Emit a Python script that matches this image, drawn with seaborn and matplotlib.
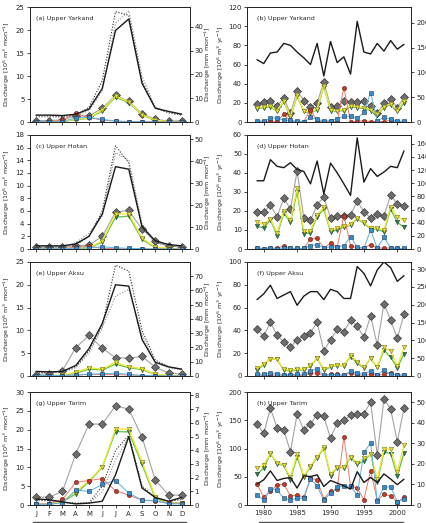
import numpy as np
import pandas as pd
import matplotlib
matplotlib.use("Agg")
import matplotlib.pyplot as plt
import seaborn as sns

months = np.arange(1, 13)
month_labels = ['J', 'F', 'M', 'A', 'M', 'J', 'J', 'A', 'S', 'O', 'N', 'D']
years = np.arange(1979, 2002)

# ---- monthly climatology (10^6 m3 / month) ----
yar_m_obs = [1.5, 1.5, 1.4, 1.7, 2.8, 7.3, 19.9, 22.4, 8.4, 3.0, 2.3, 1.7]
yar_m_hi = [1.3, 1.3, 1.2, 1.5, 3.2, 9.0, 24.0, 23.2, 9.0, 3.0, 2.0, 1.5]
yar_m_lo = [1.1, 1.1, 1.0, 1.3, 2.5, 6.8, 21.5, 24.2, 10.0, 3.2, 2.0, 1.5]
yar_m_gray = [0.3, 0.3, 0.5, 1.3, 1.3, 3.0, 5.8, 4.5, 1.8, 0.6, 0.2, 0.3]
yar_m_yel = [0.05, 0.05, 0.2, 0.6, 0.9, 2.6, 5.6, 4.4, 1.6, 0.4, 0.1, 0.1]
yar_m_grn = [0.0, 0.0, 0.15, 0.5, 0.8, 2.4, 5.4, 4.2, 1.5, 0.35, 0.1, 0.05]
yar_m_red = [0.1, 0.1, 0.4, 1.9, 1.0, 0.4, 0.2, 0.1, 0.05, 0.05, 0.05, 0.05]
yar_m_blu = [0.05, 0.05, 0.1, 0.9, 1.0, 0.6, 0.2, 0.05, 0.05, 0.0, 0.0, 0.0]

hot_m_obs = [0.5, 0.5, 0.5, 0.8, 2.0, 5.5, 13.0, 12.6, 3.5, 1.3, 0.7, 0.5]
hot_m_hi = [0.3, 0.3, 0.3, 0.6, 2.0, 6.0, 16.3, 13.6, 3.5, 1.0, 0.5, 0.3]
hot_m_lo = [0.3, 0.3, 0.3, 1.0, 2.5, 5.2, 15.2, 14.0, 4.0, 1.0, 0.5, 0.3]
hot_m_gray = [0.3, 0.3, 0.3, 0.5, 0.6, 2.0, 5.8, 6.1, 3.1, 1.2, 0.5, 0.3]
hot_m_yel = [0.0, 0.0, 0.05, 0.1, 0.2, 1.3, 5.5, 5.6, 1.7, 0.3, 0.1, 0.05]
hot_m_grn = [0.0, 0.0, 0.0, 0.05, 0.15, 1.1, 5.0, 5.2, 1.5, 0.2, 0.05, 0.0]
hot_m_red = [0.0, 0.0, 0.05, 0.3, 0.4, 0.1, 0.05, 0.0, 0.0, 0.0, 0.0, 0.0]
hot_m_blu = [0.0, 0.0, 0.05, 0.1, 0.2, 0.35, 0.2, 0.1, 0.05, 0.0, 0.0, 0.0]

aks_m_obs = [1.0, 0.9, 1.0, 2.3, 6.0, 11.5, 20.0, 19.7, 8.0, 3.0, 2.0, 1.5]
aks_m_hi = [0.8, 0.8, 1.0, 2.0, 5.5, 11.0, 24.3, 23.0, 10.0, 3.5, 2.0, 1.4]
aks_m_lo = [0.6, 0.6, 0.8, 1.8, 5.0, 10.5, 17.5, 19.0, 9.0, 3.0, 1.8, 1.3]
aks_m_gray = [0.3, 0.5, 1.2, 6.2, 8.9, 6.1, 4.0, 3.9, 4.3, 1.9, 0.7, 0.4]
aks_m_yel = [0.0, 0.05, 0.2, 0.8, 1.8, 1.5, 3.0, 2.0, 1.6, 0.4, 0.1, 0.1]
aks_m_grn = [0.0, 0.05, 0.15, 0.6, 1.5, 1.3, 2.6, 1.8, 1.4, 0.3, 0.05, 0.05]
aks_m_red = [0.05, 0.05, 0.1, 0.2, 0.3, 0.3, 0.3, 0.2, 0.1, 0.05, 0.0, 0.0]
aks_m_blu = [0.05, 0.1, 0.1, 0.2, 0.4, 0.5, 0.6, 0.4, 0.1, 0.05, 0.0, 0.0]

tar_m_obs = [1.6, 1.4, 0.8, 0.3, 0.5, 1.0, 8.0, 18.2, 4.5, 2.0, 1.0, 2.0]
tar_m_hi = [1.3, 1.2, 0.8, 0.5, 0.6, 5.0, 14.5, 18.5, 5.0, 2.0, 1.0, 1.5]
tar_m_lo = [1.2, 1.1, 0.7, 0.4, 0.5, 3.5, 12.0, 18.0, 5.0, 2.0, 1.0, 1.4]
tar_m_gray = [2.1, 2.1, 3.6, 13.6, 21.5, 21.5, 26.3, 25.5, 18.0, 6.6, 2.7, 2.6]
tar_m_yel = [0.2, 0.2, 1.0, 3.5, 6.5, 10.2, 20.2, 20.1, 11.5, 2.1, 0.6, 0.5]
tar_m_grn = [0.1, 0.1, 0.8, 3.0, 6.2, 10.0, 19.5, 19.4, 10.8, 1.8, 0.5, 0.4]
tar_m_red = [0.3, 0.3, 1.5, 6.0, 6.5, 7.0, 3.8, 2.6, 1.3, 1.0, 0.5, 0.5]
tar_m_blu = [0.2, 0.2, 0.6, 4.0, 3.6, 5.5, 6.5, 3.2, 1.3, 1.2, 0.3, 0.3]

# ---- annual series 1979-2001 (10^6 m3 / yr) ----
yar_y_obs = [65, 61, 72, 73, 82, 80, 73, 67, 60, 82, 48, 84, 62, 68, 50, 105, 73, 71, 82, 74, 85, 76, 81]
yar_y_gray = [18.5, 20.6, 22.0, 16.7, 25.0, 9.0, 32.5, 22.3, 16.0, 19.5, 42.2, 16.0, 16.5, 22.0, 20.6, 20.6, 22.0, 16.7, 9.0, 19.5, 24.0, 15.0, 25.8]
yar_y_yel = [15, 16, 17, 12, 22, 6, 28, 12, 10, 14, 38, 13, 12, 13, 17, 16, 15, 13, 8, 16, 19, 12, 22]
yar_y_grn = [14, 15, 16, 11, 21, 5, 27, 11, 9, 13, 37, 12, 11, 12, 16, 15, 14, 12, 7, 15, 18, 11, 20]
yar_y_red = [0.5, 0.5, 1.0, 0.5, 8.0, 1.0, 0.5, 0.5, 13.0, 0.5, 0.5, 1.0, 0.5, 36.0, 0.5, 0.5, 1.5, 0.5, 0.5, 0.5, 2.0, 0.5, 0.5]
yar_y_blu = [1.0, 1.0, 4.0, 4.5, 1.7, 1.7, 0.7, 0.3, 5.0, 2.8, 1.0, 1.3, 3.5, 6.0, 6.0, 3.8, 10.0, 30.7, 1.0, 4.9, 2.8, 0.7, 0.7]

hot_y_obs = [35.9, 35.9, 47.0, 43.5, 42.8, 45.4, 41.9, 40.8, 34.3, 46.3, 29.0, 45.2, 40.1, 34.3, 28.2, 58.5, 35.2, 42.3, 38.2, 40.5, 43.5, 42.8, 51.6]
hot_y_gray = [19.4, 19.4, 23.2, 17.0, 26.8, 21.0, 41.0, 16.4, 15.0, 23.4, 27.3, 16.4, 17.3, 17.6, 18.0, 25.0, 19.7, 16.2, 18.5, 17.6, 28.2, 23.8, 22.4]
hot_y_yel = [14, 13, 16, 8.5, 20, 15, 32, 9.5, 9.5, 18, 22, 10, 11, 12, 13, 16.5, 14, 11, 11, 10, 22, 17, 15]
hot_y_grn = [12, 11, 15.5, 7, 19, 14, 30, 8, 8.5, 17, 21, 9, 10, 11.5, 12.5, 16, 13.5, 10.5, 10.5, 9, 21, 14, 11.5]
hot_y_red = [0.5, 0.2, 0.5, 0.3, 1.8, 0.3, 0.3, 0.3, 5.3, 5.6, 0.5, 3.0, 1.0, 17.6, 1.8, 0.5, 0.5, 2.3, 0.5, 0.5, 0.5, 0.3, 0.2]
hot_y_blu = [0.5, 0.2, 0.5, 0.2, 0.5, 0.3, 0.3, 0.3, 1.8, 2.3, 0.5, 1.2, 1.0, 1.8, 6.5, 1.0, 0.5, 10.0, 0.5, 6.2, 0.5, 0.3, 0.3]

aks_y_obs = [67, 72, 79.6, 68, 71, 74, 62, 70, 74, 74, 67, 76, 74, 68, 68, 96, 90, 79, 93, 100, 95, 83, 88]
aks_y_gray = [40.8, 35, 47, 35.8, 30, 25, 32, 35, 38, 47, 22, 31.5, 40.8, 38.8, 49, 43.7, 33.8, 52.8, 27, 63.5, 49, 33, 54]
aks_y_yel = [6.7, 10.5, 15, 14.5, 5.8, 5.2, 5.8, 6.1, 9.6, 15.7, 5.8, 8.7, 9.3, 9.3, 18, 12.5, 7.6, 15.5, 8.2, 25, 21.9, 8.7, 25]
aks_y_grn = [5, 10, 15, 14.5, 5, 4.5, 5, 5.5, 9, 15.5, 5, 8, 9, 9, 17, 11, 7, 15.5, 7.5, 22.7, 16.3, 7.3, 19.2]
aks_y_red = [1, 0.5, 0.5, 1, 0.5, 0.5, 0.5, 0.5, 2.5, 2.5, 0.3, 1.5, 1.5, 0.5, 3, 1, 0.5, 1.5, 0.5, 1.5, 2.5, 0.5, 1]
aks_y_blu = [1.5, 1.5, 2.5, 2, 1, 1, 1.5, 1.5, 4.5, 6, 0.5, 1, 1, 0.5, 4, 2.5, 1.5, 4.5, 1, 5, 1.5, 1, 0.5]

tar_y_obs = [37, 44.6, 60.4, 43.4, 47, 48.7, 30, 51.6, 50.4, 53.4, 32.8, 43.4, 38.7, 34, 28, 59, 40, 48.7, 40, 55, 46, 36, 45.7]
tar_y_gray = [144, 127, 171, 137, 132.5, 94.4, 161, 132.5, 144, 160, 157, 118, 145.5, 150, 159, 161, 161, 182.4, 88.6, 187, 170, 112, 171]
tar_y_yel = [65, 71, 91.5, 75, 71, 49, 90, 51.6, 69, 85.6, 102, 55, 67, 67, 85.6, 75, 82.7, 89.7, 45.7, 98.5, 98.5, 59, 106]
tar_y_grn = [55, 65, 91, 73, 70, 45, 85, 50, 67, 84, 100, 52, 66, 66, 84, 72, 78, 90, 40, 94, 91, 52, 92]
tar_y_red = [37, 14, 24, 36, 37, 16, 18, 14, 47, 45, 11, 24, 28, 121, 34, 30, 9, 61, 8, 19, 16, 5, 14]
tar_y_blu = [18, 9, 28, 26, 12, 9, 12, 12, 46, 34, 8, 21, 31, 34, 33, 18, 93, 110, 7, 32, 32, 6, 10]

# mm per 10^6 m3 for each basin (right-hand axes)
mm_factor = {'yar': 1.93, 'hot': 2.89, 'aks': 3.2, 'tar': 0.275}

names = {'obs': 'Observation', 'gray': 'WRF-CCI', 'red': 'WRF-CRU',
         'blu': 'WRFDI-CRU', 'yel': 'WRFDI-CCI', 'grn': 'WRFDI-CCI-BC'}

styles = {
    'hi': dict(color='#2a2a2a', linewidth=0.8, linestyle=(0, (1, 1.5))),
    'lo': dict(color='#8a8a8a', linewidth=0.8, linestyle=(0, (1, 1.5))),
    'gray': dict(color='#a3a3a3', linewidth=0.8, marker='D', markersize=3.6,
                 markerfacecolor='#6d6d6d', markeredgecolor='#3a3a3a', markeredgewidth=0.5),
    'grn': dict(color='#5cc04a', linewidth=0.9, marker='v', markersize=3.2,
                markerfacecolor='#2f7d52', markeredgecolor='#1c4a2e', markeredgewidth=0.4),
    'yel': dict(color='#f3e83a', linewidth=1.0, marker='v', markersize=3.2,
                markerfacecolor='#eee035', markeredgecolor='#7c7a22', markeredgewidth=0.4),
    'red': dict(color='#ea7b68', linewidth=0.7, marker='o', markersize=3.0,
                markerfacecolor='#c73a2a', markeredgecolor='#5a1a10', markeredgewidth=0.4),
    'blu': dict(color='#5ab3e3', linewidth=0.7, marker='s', markersize=3.0,
                markerfacecolor='#3a8bc9', markeredgecolor='#1a3a5a', markeredgewidth=0.4),
    'obs': dict(color='#1a1a1a', linewidth=1.0),
}

monthly = {
    'yar': dict(obs=yar_m_obs, hi=yar_m_hi, lo=yar_m_lo, gray=yar_m_gray, grn=yar_m_grn,
                yel=yar_m_yel, red=yar_m_red, blu=yar_m_blu),
    'hot': dict(obs=hot_m_obs, hi=hot_m_hi, lo=hot_m_lo, gray=hot_m_gray, grn=hot_m_grn,
                yel=hot_m_yel, red=hot_m_red, blu=hot_m_blu),
    'aks': dict(obs=aks_m_obs, hi=aks_m_hi, lo=aks_m_lo, gray=aks_m_gray, grn=aks_m_grn,
                yel=aks_m_yel, red=aks_m_red, blu=aks_m_blu),
    'tar': dict(obs=tar_m_obs, hi=tar_m_hi, lo=tar_m_lo, gray=tar_m_gray, grn=tar_m_grn,
                yel=tar_m_yel, red=tar_m_red, blu=tar_m_blu),
}
annual = {
    'yar': dict(obs=yar_y_obs, gray=yar_y_gray, grn=yar_y_grn, yel=yar_y_yel, red=yar_y_red, blu=yar_y_blu),
    'hot': dict(obs=hot_y_obs, gray=hot_y_gray, grn=hot_y_grn, yel=hot_y_yel, red=hot_y_red, blu=hot_y_blu),
    'aks': dict(obs=aks_y_obs, gray=aks_y_gray, grn=aks_y_grn, yel=aks_y_yel, red=aks_y_red, blu=aks_y_blu),
    'tar': dict(obs=tar_y_obs, gray=tar_y_gray, grn=tar_y_grn, yel=tar_y_yel, red=tar_y_red, blu=tar_y_blu),
}

basins = ['yar', 'hot', 'aks', 'tar']
titles_m = ['(a) Upper Yarkand', '(c) Upper Hotan', '(e) Upper Aksu', '(g) Upper Tarim']
titles_y = ['(b) Upper Yarkand', '(d) Upper Hotan', '(f) Upper Aksu', '(h) Upper Tarim']
ymax_m = [25, 18, 25, 30]
ystep_m = [5, 2, 5, 5]
y2step_m = [10, 10, 10, 1]
ymax_y = [120, 60, 100, 200]
ystep_y = [20, 10, 20, 50]
y2step_y = [50, 20, 50, 10]

sns.set_style('ticks')
plt.rcParams['font.family'] = ['DejaVu Sans']
plt.rcParams['axes.linewidth'] = 0.7
plt.rcParams['xtick.major.width'] = 0.6
plt.rcParams['ytick.major.width'] = 0.6
plt.rcParams['xtick.major.size'] = 2.5
plt.rcParams['ytick.major.size'] = 2.5
fs = 5
fs_lab = 4.6

fig = plt.figure(figsize=(4.27, 5.23), dpi=100)
row_bottom = [0.7667, 0.5239, 0.2811, 0.0344]
row_height = [0.2199, 0.218, 0.218, 0.216]

draw_order_m = ['hi', 'lo', 'gray', 'grn', 'yel', 'red', 'blu', 'obs']
draw_order_y = ['gray', 'grn', 'yel', 'red', 'blu', 'obs']


def draw(ax, x, series, order):
    for key in order:
        df = pd.DataFrame({'x': x, 'y': series[key]})
        label = names.get(key, '_nolegend_') if key not in ('hi', 'lo') else '_nolegend_'
        sns.lineplot(data=df, x='x', y='y', ax=ax, legend=False, label=label,
                     **styles[key])


for i, b in enumerate(basins):
    # ---- monthly panel ----
    ax = fig.add_axes([0.0703, row_bottom[i], 0.3747, row_height[i]])
    draw(ax, months, monthly[b], draw_order_m)
    ax.set_xlim(0.55, 12.62)
    ax.set_ylim(0, ymax_m[i])
    ax.set_yticks(np.arange(0, ymax_m[i] + 0.01, ystep_m[i]))
    ax.set_xticks(months)
    ax.set_xticklabels(month_labels if i == 3 else [])
    ax.set_xlabel('')
    ax.set_ylabel('Discharge [10$^6$ m$^3$ mon$^{-1}$]', fontsize=fs_lab)
    ax.yaxis.set_label_coords(-0.112, 0.5)
    ax.tick_params(labelsize=fs, pad=1.5)
    ax.text(0.04, 0.9, titles_m[i], transform=ax.transAxes, fontsize=4.6, va='center')
    ax2 = ax.twinx()
    top2 = ymax_m[i] * mm_factor[b]
    ax2.set_ylim(0, top2)
    ax2.set_yticks(np.arange(0, top2, y2step_m[i]))
    ax2.set_ylabel('Discharge [mm mon$^{-1}$]', fontsize=fs_lab)
    ax2.yaxis.set_label_coords(1.08, 0.5)
    ax2.tick_params(labelsize=fs, pad=1.0, length=2.2)
    if i == 3:
        h, l = ax.get_legend_handles_labels()
        lk = dict(zip(l, h))
        order = ['Observation', 'WRF-CCI', 'WRF-CRU', 'WRFDI-CRU', 'WRFDI-CCI', 'WRFDI-CCI-BC']
        ax.legend([lk[o] for o in order], order, loc='upper left',
                  bbox_to_anchor=(0.0, -0.3, 0.99, 0.175), mode='expand', ncol=3,
                  fontsize=3.8, numpoints=2, frameon=True, fancybox=False,
                  edgecolor='#222222', borderpad=0.3, handlelength=3.0)

    # ---- annual panel ----
    ax = fig.add_axes([0.5785, row_bottom[i], 0.384, row_height[i]])
    draw(ax, years, annual[b], draw_order_y)
    ax.set_xlim(1977.5, 2002.05)
    ax.set_ylim(0, ymax_y[i])
    ax.set_yticks(np.arange(0, ymax_y[i] + 0.01, ystep_y[i]))
    ax.set_xticks(np.arange(1980, 2001, 5))
    if i != 3:
        ax.set_xticklabels([])
    ax.set_xlabel('')
    ax.set_ylabel('Discharge [10$^6$ m$^3$ yr$^{-1}$]', fontsize=fs_lab)
    ax.yaxis.set_label_coords(-0.128, 0.5)
    ax.tick_params(labelsize=fs, pad=1.2)
    ax.text(0.06, 0.9, titles_y[i], transform=ax.transAxes, fontsize=4.6, va='center')
    ax2 = ax.twinx()
    top2 = ymax_y[i] * mm_factor[b]
    ax2.set_ylim(0, top2)
    ax2.set_yticks(np.arange(0, top2, y2step_y[i]))
    ax2.set_ylabel('Discharge [mm yr$^{-1}$]', fontsize=fs_lab)
    ax2.yaxis.set_label_coords(1.13, 0.5)
    ax2.tick_params(labelsize=fs, pad=1.5)
    if i == 3:
        h, l = ax.get_legend_handles_labels()
        lk = dict(zip(l, h))
        order = ['Observation', 'WRF-CCI', 'WRFDI-CRU', 'WRF-CRU', 'WRFDI-CCI', 'WRFDI-CCI-BC']
        ax.legend([lk[o] for o in order], order, loc='upper left',
                  bbox_to_anchor=(0.055, -0.3, 0.91, 0.175), mode='expand', ncol=3,
                  fontsize=3.8, numpoints=2, frameon=True, fancybox=False,
                  edgecolor='#222222', borderpad=0.3, handlelength=3.0)

fig.savefig('out.png', dpi=100)
